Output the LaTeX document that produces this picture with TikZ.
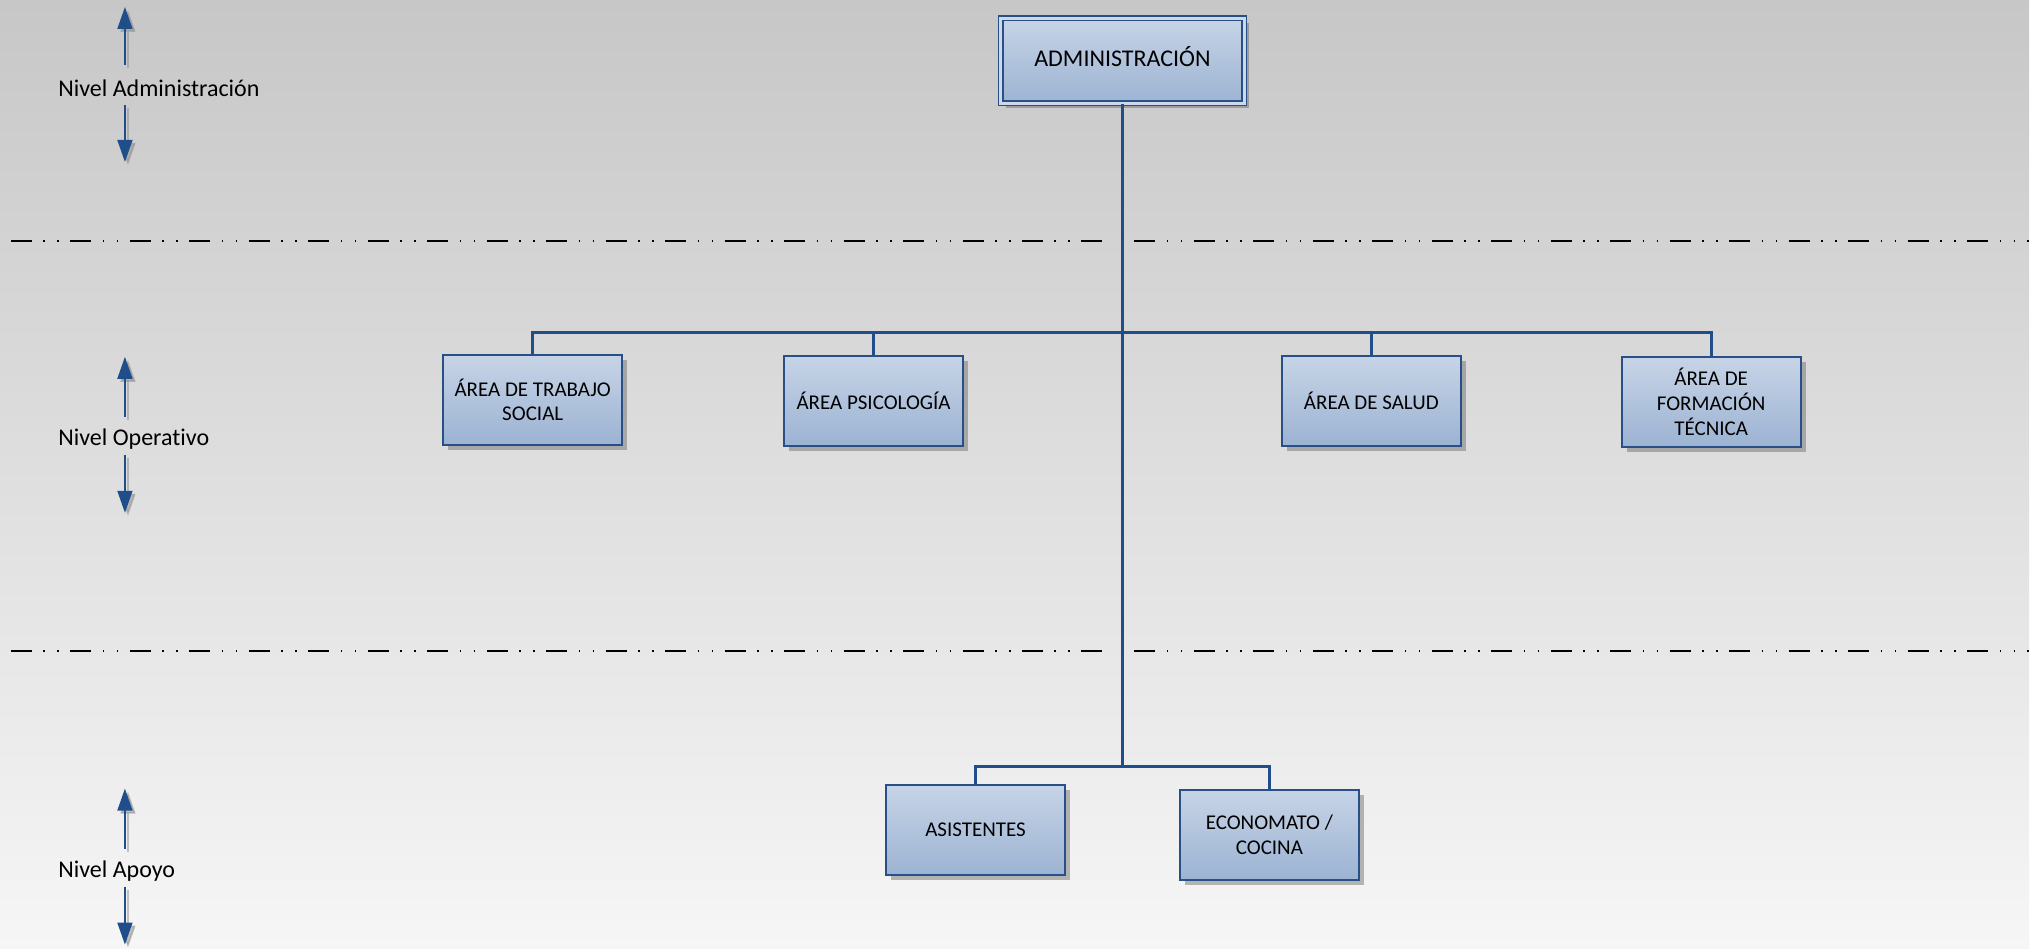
\documentclass[tikz,border=0pt]{standalone}
\usepackage{fontspec}
\setmainfont{Carlito}[Ligatures=NoCommon]
\usetikzlibrary{arrows.meta,shadows}

\definecolor{bgtop}{RGB}{199,199,199}
\definecolor{bgbot}{RGB}{246,246,246}
\definecolor{boxtop}{RGB}{199,212,230}
\definecolor{boxbot}{RGB}{156,179,211}
\definecolor{boxline}{RGB}{40,80,135}
\definecolor{connblue}{RGB}{31,78,138}

\begin{document}
\begin{tikzpicture}[x=0.5pt,y=-0.5pt]

	\tikzstyle unitbox=[draw=boxline, line width=1pt, top color=boxtop, bottom color=boxbot,
		align=center, font=\fontsize{10.5}{12.5}\selectfont, inner sep=2pt,
		minimum width=89.5pt, minimum height=45pt,
		drop shadow={shadow xshift=2.5pt, shadow yshift=-2.5pt, opacity=0.45, fill=black!60}];
	\tikzstyle headbox=[unitbox, double=boxtop!90!white, double distance=1.2pt, line width=0.9pt,
		font=\fontsize{12}{14}\selectfont, text height=5.6pt, text depth=0pt,
		minimum width=122pt, minimum height=42.5pt];
	\tikzstyle connector lines=[draw=connblue, line width=1.5pt];
	\tikzstyle level lines=[black, line width=1pt,
		dash pattern=on 10.5pt off 5.75pt on 0.75pt off 6.25pt on 0.75pt off 5.75pt];
	\tikzstyle level arrows=[-{Triangle[length=11pt,width=7.5pt]}, connblue, line width=0.8pt];
	\tikzstyle level shadow=[-{Triangle[length=11pt,width=7.5pt]}, black!45, opacity=0.5, line width=0.8pt];
	\tikzstyle level text=[anchor=west, inner sep=0pt, font=\fontsize{12}{14}\selectfont];

	% background
	\fill[top color=bgtop, bottom color=bgbot] (0,0) rectangle (2030,949);

	% level separators
	\foreach \y in {241,651}{
		\draw[level lines] (11,\y) -- (1112,\y);
		\draw[level lines] (1135,\y) -- (2030,\y);
	}

	% level labels
	\node[level text] (nadm) at (58,88) {Nivel Administración};
	\node[level text] (nope) at (58,439) {Nivel Operativo};
	\node[level text] (napo) at (58,872) {Nivel Apoyo};

	\foreach \ya/\yb/\yc/\yd in {65/7/105/162,417/357/455/513,849/789/887/945}{
		\draw[level shadow] ([xshift=1.5pt,yshift=-1.5pt]125,\ya) -- ([xshift=1.5pt,yshift=-1.5pt]125,\yb);
		\draw[level shadow] ([xshift=1.5pt,yshift=-1.5pt]125,\yc) -- ([xshift=1.5pt,yshift=-1.5pt]125,\yd);
		\draw[level arrows] (125,\ya) -- (125,\yb);
		\draw[level arrows] (125,\yc) -- (125,\yd);
	}

	% connectors
	\coordinate (busop) at (1123,333);
	\coordinate (busap) at (1123,767);

	\node[headbox] (adm) at (1123,61) {ADMINISTRACIÓN};

	\node[unitbox] (trab) at (533,400) {ÁREA DE TRABAJO\\SOCIAL};
	\node[unitbox] (psic) at (874,401) {ÁREA PSICOLOGÍA};
	\node[unitbox] (salud) at (1372,401) {ÁREA DE SALUD};
	\node[unitbox] (form) at (1712,402) {ÁREA DE\\FORMACIÓN\\TÉCNICA};

	\node[unitbox] (asis) at (976,830) {ASISTENTES};
	\node[unitbox] (econ) at (1270,835) {ECONOMATO /\\COCINA};

	\draw[connector lines] (adm) -- (busap);
	\foreach \n in {trab,psic,salud,form}
		\draw[connector lines] (busop) -| (\n);
	\foreach \n in {asis,econ}
		\draw[connector lines] (busap) -| (\n);

\end{tikzpicture}
\end{document}
